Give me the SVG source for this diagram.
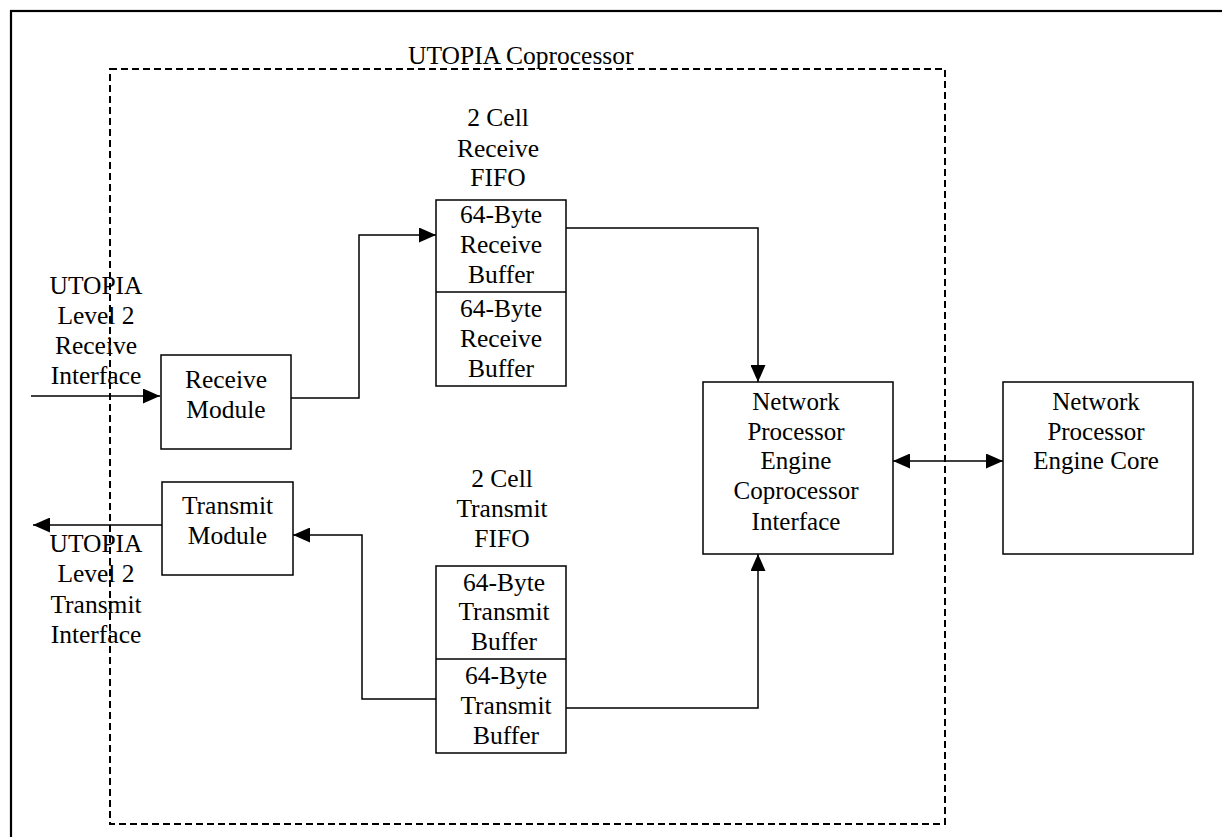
<svg xmlns="http://www.w3.org/2000/svg" width="1222" height="837" viewBox="0 0 1222 837">
<style>
  .box{fill:#fff;stroke:#000;stroke-width:1.5}
  .t{font-family:"Liberation Serif","Times New Roman",serif;font-size:25.5px;fill:#000;text-anchor:middle}
  .tn{font-family:"Liberation Serif","Times New Roman",serif;font-size:25px;fill:#000;text-anchor:middle}
  .c{fill:none;stroke:#000;stroke-width:1.5}
</style>
<defs>
  <marker id="ah" viewBox="0 0 17 15" refX="17" refY="7.5" markerWidth="17" markerHeight="15" markerUnits="userSpaceOnUse" orient="auto-start-reverse">
    <path d="M0,0 L17,7.5 L0,15 z" fill="#000"/>
  </marker>
</defs>
<rect width="1222" height="837" fill="#fff"/>
<rect x="11" y="11" width="1222" height="840" fill="none" stroke="#000" stroke-width="2.2"/>

<g id="coprocessor">
  <rect x="110" y="69" width="835" height="755" fill="none" stroke="#000" stroke-width="2" stroke-dasharray="7 4"/>
  <text x="408" y="64" class="t" style="text-anchor:start">UTOPIA Coprocessor</text>
</g>

<g id="connectors">
  <line class="c" x1="31" y1="396" x2="160" y2="396" marker-end="url(#ah)"/>
  <line class="c" x1="162" y1="525" x2="33" y2="525" marker-end="url(#ah)"/>
  <polyline class="c" points="291,398 359,398 359,235 436,235" marker-end="url(#ah)"/>
  <polyline class="c" points="566,228 758,228 758,382" marker-end="url(#ah)"/>
  <polyline class="c" points="566,708 758,708 758,554" marker-end="url(#ah)"/>
  <polyline class="c" points="440,699 362,699 362,535 293,535" marker-end="url(#ah)"/>
  <line class="c" x1="893" y1="461" x2="1003" y2="461" marker-start="url(#ah)" marker-end="url(#ah)"/>
</g>

<g id="rx-interface-label">
  <text class="t" x="96" y="294">UTOPIA</text>
  <text class="t" x="96" y="324">Level 2</text>
  <text class="t" x="96" y="354">Receive</text>
  <text class="t" x="96" y="384">Interface</text>
</g>
<g id="tx-interface-label">
  <text class="t" x="96" y="552">UTOPIA</text>
  <text class="t" x="96" y="582">Level 2</text>
  <text class="t" x="96" y="613">Transmit</text>
  <text class="t" x="96" y="643">Interface</text>
</g>

<g id="receive-module">
  <rect class="box" x="161" y="355" width="130" height="94"/>
  <text class="t" x="226" y="388">Receive</text>
  <text class="t" x="226" y="418">Module</text>
</g>
<g id="transmit-module">
  <rect class="box" x="162" y="482" width="131" height="93"/>
  <text class="t" x="227.5" y="514">Transmit</text>
  <text class="t" x="227.5" y="544">Module</text>
</g>

<g id="receive-fifo">
  <text class="t" x="498" y="126">2 Cell</text>
  <text class="t" x="498" y="157">Receive</text>
  <text class="t" x="498" y="186">FIFO</text>
  <rect class="box" x="436" y="200" width="130" height="186"/>
  <line class="c" x1="436" y1="292" x2="566" y2="292"/>
  <text class="t" x="501" y="223">64-Byte</text>
  <text class="t" x="501" y="253">Receive</text>
  <text class="t" x="501" y="283">Buffer</text>
  <text class="t" x="501" y="317">64-Byte</text>
  <text class="t" x="501" y="347">Receive</text>
  <text class="t" x="501" y="377">Buffer</text>
</g>

<g id="transmit-fifo">
  <text class="t" x="502" y="487">2 Cell</text>
  <text class="t" x="502" y="517">Transmit</text>
  <text class="t" x="502" y="547">FIFO</text>
  <rect class="box" x="436" y="566" width="130" height="187"/>
  <line class="c" x1="436" y1="659" x2="566" y2="659"/>
  <text class="t" x="504" y="591">64-Byte</text>
  <text class="t" x="504" y="620">Transmit</text>
  <text class="t" x="504" y="650">Buffer</text>
  <text class="t" x="506" y="684">64-Byte</text>
  <text class="t" x="506" y="714">Transmit</text>
  <text class="t" x="506" y="744">Buffer</text>
</g>

<g id="npe-coprocessor-interface">
  <rect class="box" x="703" y="382" width="190" height="172"/>
  <text class="tn" x="796" y="410">Network</text>
  <text class="tn" x="796" y="440">Processor</text>
  <text class="tn" x="796" y="469">Engine</text>
  <text class="tn" x="796" y="499">Coprocessor</text>
  <text class="tn" x="796" y="530">Interface</text>
</g>

<g id="npe-core">
  <rect class="box" x="1003" y="382" width="190" height="172"/>
  <text class="tn" x="1096" y="410">Network</text>
  <text class="tn" x="1096" y="440">Processor</text>
  <text class="tn" x="1096" y="469">Engine Core</text>
</g>
</svg>
